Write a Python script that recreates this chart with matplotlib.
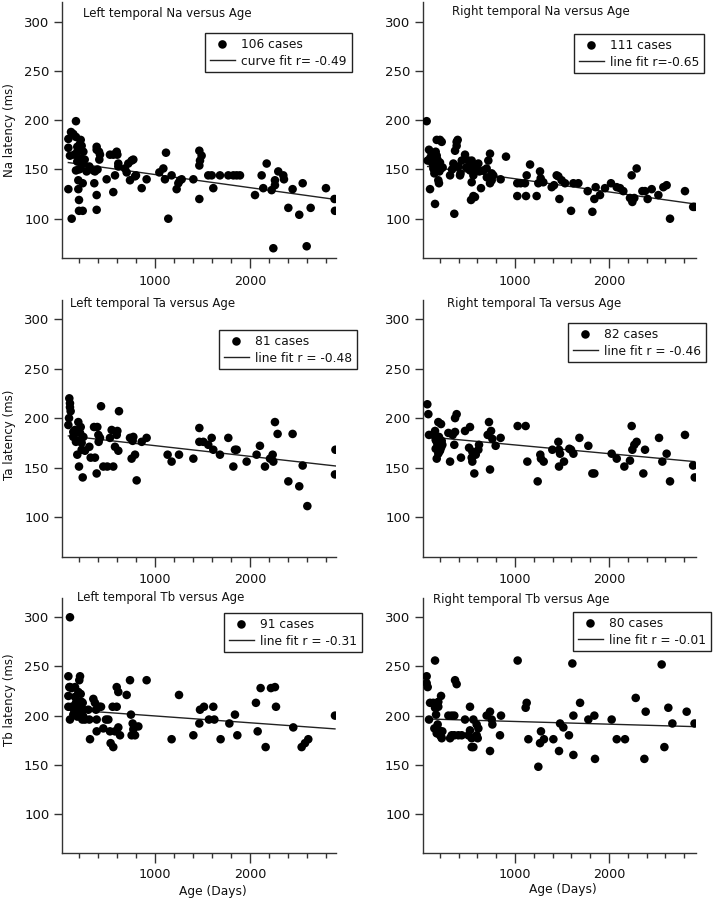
import matplotlib
matplotlib.use('Agg')
import matplotlib.pyplot as plt
from matplotlib.ticker import FixedLocator

# ---------------- data ----------------
titles = ["Left temporal Na versus Age", "Right temporal Na versus Age",
          "Left temporal Ta versus Age", "Right temporal Ta versus Age",
          "Left temporal Tb versus Age", "Right temporal Tb versus Age"]
ylabels = ["Na latency (ms)", "Ta latency (ms)", "Tb latency (ms)"]
xlabel = "Age (Days)"
case_labels = ["106 cases", "111 cases", "81 cases", "82 cases", "91 cases", "80 cases"]
fit_labels = ["curve fit r= -0.49", "line fit r=-0.65", "line fit r = -0.48",
              "line fit r = -0.46", "line fit r = -0.31", "line fit r = -0.01"]
y_ticks = [100, 150, 200, 250, 300]
x_major = [1000, 2000]
x_minor = [200, 400, 600, 800, 1200, 1400, 1600, 1800, 2200, 2400, 2600, 2800]

na_left_x = [88, 88, 88, 105, 116, 123, 140, 168, 168, 182, 182, 168, 182, 193, 193, 200, 200, 218, 218, 218,
             228, 239, 239, 246, 246, 309, 351, 361, 368, 386, 386, 386, 386, 411, 414, 421, 491, 526, 561, 561,
             579, 597, 604, 614, 614, 684, 702, 719, 737, 754, 772, 790, 800, 860, 912, 1046, 1088, 1105, 1116, 1140,
             1175, 1228, 1246, 1263, 1281, 1404, 1467, 1467, 1474, 1491, 1467, 1561, 1597, 1614, 1684, 1772, 1825, 1860, 1895, 2053,
             2123, 2140, 2176, 2228, 2263, 2263, 2298, 2351, 2358, 2246, 2449, 2404, 2519, 2555, 2597, 2639, 2800, 2890, 2895,
             200, 210, 225, 150, 260, 280, 395]
na_left_y = [181, 172, 130, 164, 188, 100, 186, 199, 183, 173, 168, 149, 158, 139, 130, 119, 108, 180, 161, 151,
             174, 108, 136, 168, 156, 153, 149, 136, 148, 173, 170, 124, 109, 168, 160, 165, 140, 165, 165, 127,
             144, 168, 165, 156, 153, 151, 147, 156, 139, 159, 160, 143, 144, 131, 140, 147, 151, 140, 167, 100,
             144, 130, 136, 139, 140, 140, 169, 154, 159, 164, 120, 144, 144, 131, 144, 144, 144, 144, 144, 124,
             144, 131, 156, 129, 134, 139, 148, 144, 140, 70, 130, 111, 104, 136, 72, 111, 131, 120, 108,
             150, 176, 160, 165, 160, 148, 150]

na_right_x = [60, 71, 85, 96, 113, 121, 131, 142, 149, 156, 167, 167, 177, 184, 191, 202, 202, 213, 220, 309,
              344, 354, 362, 379, 379, 390, 397, 415, 433, 468, 504, 521, 539, 539, 546, 557, 532, 557, 574, 592,
              610, 638, 663, 698, 716, 734, 734, 752, 752, 769, 847, 904, 1024, 1024, 1060, 1106, 1117, 1124, 1160, 1230,
              1248, 1266, 1273, 1301, 1390, 1415, 1443, 1461, 1472, 1496, 1532, 1596, 1621, 1674, 1773, 1823, 1844, 1858, 1904, 1957,
              2021, 2082, 2117, 2152, 2223, 2241, 2248, 2269, 2294, 2355, 2383, 2411, 2454, 2525, 2578, 2613, 2649, 2808, 2895, 2910,
              100, 140, 175, 195, 230, 330, 420, 480, 560, 620, 700]
na_right_y = [199, 159, 170, 130, 166, 156, 151, 146, 115, 168, 164, 180, 153, 139, 136, 180, 157, 151, 178, 144,
              156, 105, 169, 178, 174, 180, 153, 144, 159, 165, 159, 149, 137, 159, 154, 144, 119, 123, 122, 153,
              156, 131, 149, 151, 159, 166, 136, 139, 146, 144, 140, 163, 136, 123, 136, 136, 123, 144, 155, 123,
              136, 148, 141, 137, 132, 134, 144, 143, 120, 139, 136, 108, 136, 136, 128, 107, 120, 132, 124, 131,
              136, 132, 131, 128, 121, 144, 117, 121, 151, 128, 128, 120, 130, 124, 132, 134, 100, 128, 112, 112,
              162, 150, 160, 148, 152, 150, 146, 152, 150, 148, 142]

ta_left_x = [88, 95, 98, 105, 105, 112, 140, 158, 168, 175, 182, 193, 200, 211, 218, 228, 228, 239, 246, 263,
             309, 323, 358, 368, 386, 393, 404, 407, 421, 432, 456, 498, 526, 544, 561, 579, 597, 604, 614, 621,
             737, 754, 765, 772, 790, 807, 860, 912, 1133, 1175, 1253, 1404, 1467, 1467, 1509, 1561, 1597, 1614, 1684, 1772,
             1825, 1842, 1860, 1965, 2070, 2105, 2158, 2211, 2239, 2246, 2263, 2291, 2404, 2449, 2519, 2555, 2604, 2895, 2900,
             140, 182]
ta_left_y = [193, 200, 220, 215, 211, 207, 181, 188, 176, 186, 163, 196, 151, 185, 191, 175, 168, 140, 181, 167,
             171, 160, 191, 160, 144, 191, 183, 176, 180, 212, 151, 151, 180, 188, 151, 171, 183, 187, 167, 207,
             180, 159, 177, 181, 163, 137, 176, 180, 163, 156, 163, 159, 190, 176, 176, 173, 180, 168, 163, 180,
             151, 168, 168, 156, 163, 172, 151, 159, 163, 156, 196, 184, 136, 184, 131, 152, 111, 143, 168,
             186, 177]

ta_right_x = [67, 78, 85, 131, 149, 156, 156, 167, 177, 184, 191, 202, 213, 220, 291, 309, 337, 354, 362, 379,
              425, 468, 511, 521, 539, 546, 567, 582, 610, 617, 709, 723, 734, 745, 759, 794, 847, 1028, 1113, 1131,
              1241, 1269, 1276, 1305, 1397, 1461, 1468, 1468, 1479, 1521, 1578, 1596, 1621, 1685, 1780, 1823, 1844, 2028, 2082, 2163,
              2223, 2241, 2248, 2269, 2294, 2365, 2383, 2532, 2567, 2613, 2649, 2808, 2895, 2912,
              167, 184, 191, 213, 227, 362, 546]
ta_right_y = [214, 204, 183, 183, 187, 178, 169, 159, 173, 196, 166, 167, 194, 177, 185, 156, 183, 173, 200, 204,
              160, 187, 170, 191, 160, 156, 144, 163, 168, 173, 183, 196, 148, 187, 179, 172, 180, 192, 192, 156,
              136, 163, 159, 156, 168, 176, 168, 151, 164, 156, 169, 168, 164, 180, 172, 144, 144, 164, 159, 151,
              157, 192, 168, 173, 176, 144, 168, 180, 156, 164, 136, 183, 152, 140,
              176, 164, 181, 170, 173, 186, 166]

tb_left_x = [105, 88, 105, 98, 88, 88, 105, 123, 133, 140, 158, 158, 168, 175, 182, 193, 193, 203, 211, 218,
             218, 228, 235, 239, 246, 263, 298, 309, 316, 351, 368, 379, 386, 386, 414, 432, 456, 484, 509, 526,
             533, 554, 561, 579, 597, 597, 614, 614, 632, 702, 737, 747, 754, 765, 772, 790, 825, 912, 1175, 1253,
             1404, 1467, 1474, 1516, 1568, 1614, 1625, 1691, 1783, 1842, 1867, 2063, 2081, 2112, 2165, 2221, 2263, 2274, 2456, 2544,
             2579, 2614, 2895, 123, 147, 182, 228, 246]
tb_left_y = [300, 240, 229, 229, 220, 209, 196, 228, 209, 201, 229, 219, 213, 206, 199, 224, 214, 236, 240, 222,
             209, 201, 196, 213, 206, 196, 206, 196, 176, 217, 213, 206, 196, 184, 209, 209, 187, 196, 196, 184,
             172, 209, 168, 184, 209, 229, 224, 188, 180, 221, 236, 201, 180, 192, 186, 180, 189, 236, 176, 221,
             180, 192, 206, 209, 196, 209, 196, 176, 192, 201, 180, 213, 184, 228, 168, 228, 229, 209, 188, 168,
             172, 176, 200, 209, 206, 206, 214, 199]

tb_right_x = [60, 60, 71, 85, 96, 131, 149, 149, 160, 167, 177, 184, 184, 202, 213, 220, 227, 291, 309, 326,
              354, 354, 362, 379, 397, 433, 468, 504, 521, 539, 539, 557, 592, 603, 610, 592, 698, 734, 734, 752,
              759, 840, 851, 1028, 1113, 1124, 1142, 1248, 1276, 1266, 1308, 1408, 1468, 1479, 1514, 1574, 1610, 1621, 1621, 1692,
              1780, 1844, 1851, 2028, 2082, 2170, 2284, 2376, 2390, 2560, 2589, 2631, 2674, 2826, 2910,
              167, 191, 213, 184, 142, 326, 557, 521]
tb_right_y = [240, 233, 229, 196, 213, 213, 256, 208, 201, 185, 191, 183, 209, 180, 220, 177, 184, 200, 177, 200,
              200, 180, 236, 232, 180, 180, 196, 180, 209, 177, 168, 168, 191, 177, 187, 180, 200, 204, 164, 196,
              191, 180, 200, 256, 208, 213, 176, 148, 184, 172, 176, 176, 164, 192, 188, 180, 253, 200, 160, 213,
              196, 200, 156, 196, 176, 176, 218, 156, 204, 252, 168, 208, 192, 204, 192,
              182, 185, 179, 214, 187, 180, 196, 185]

# fit lines: (start x, end x) and (start y, end y)
fit_x = [[88, 2895], [71, 2910], [88, 2900], [78, 2912], [88, 2895], [71, 2910]]
fit_y = [[157, 119.6], [153, 115], [182, 151.6], [181, 156], [206, 186.5], [196.6, 188.8]]

xs_all = [na_left_x, na_right_x, ta_left_x, ta_right_x, tb_left_x, tb_right_x]
ys_all = [na_left_y, na_right_y, ta_left_y, ta_right_y, tb_left_y, tb_right_y]

# ---------------- layout (pixels) ----------------
W, H = 714, 900
fig = plt.figure(figsize=(W / 100, H / 100), dpi=100)
fig.patch.set_facecolor('white')

cols = [(61.9, 336.4), (422.9, 695.5)]
rows = [(2.0, 258.1), (299.5, 556.5), (597.6, 853.3)]
xlim = [(20, 2910), (20, 2920)]
ylim = (60, 320)

title_pos = [(83, 13), (452, 12), (70, 303), (447, 304), (77, 598), (433, 600)]
legend_pos = [(205, 33), (574, 34), (219, 330), (568, 323), (224, 613), (573, 612)]
ylabel_pos = [(10, 130), (10, 435), (10, 700)]
xlabel_pos = [(213, 892), (563, 889)]

axis_col = '#333333'

for i in range(6):
    r, c = divmod(i, 2)
    x0, x1 = cols[c]
    top, bot = rows[r]
    ax = fig.add_axes([x0 / W, 1 - bot / H, (x1 - x0) / W, (bot - top) / H])
    ax.set_xlim(*xlim[c])
    ax.set_ylim(*ylim)
    sc = ax.scatter(xs_all[i], ys_all[i], s=38, color='black', edgecolors='none', zorder=3)
    ln, = ax.plot(fit_x[i], fit_y[i], color='#222222', lw=1.0, zorder=2)
    for s in ('top', 'right'):
        ax.spines[s].set_visible(False)
    for s in ('left', 'bottom'):
        ax.spines[s].set_color(axis_col)
        ax.spines[s].set_linewidth(1.0)
    ax.yaxis.set_major_locator(FixedLocator(y_ticks))
    ax.xaxis.set_major_locator(FixedLocator(x_major))
    ax.xaxis.set_minor_locator(FixedLocator(x_minor))
    ax.tick_params(axis='y', direction='out', length=6, width=1, pad=3, labelsize=9.5,
                   colors=axis_col, labelcolor='#111111')
    xpad = 3.5 if r == 2 else 5
    ax.tick_params(axis='x', which='major', direction='out', length=7, width=1, pad=xpad, labelsize=9.2,
                   colors=axis_col, labelcolor='#111111')
    ax.tick_params(axis='x', which='minor', direction='out', length=3.6, width=1, colors=axis_col)
    ax.patch.set_alpha(0)

    tx, ty = title_pos[i]
    fig.text(tx / W, 1 - ty / H, titles[i], ha='left', va='center', fontsize=8.5, color='#111111')

    lx, ly = legend_pos[i]
    leg = ax.legend([sc, ln], [case_labels[i], fit_labels[i]], loc='upper left',
                    bbox_to_anchor=(lx / W, 1 - ly / H), bbox_transform=fig.transFigure,
                    frameon=True, fancybox=False, edgecolor='#222222', framealpha=1,
                    fontsize=8.8, borderpad=0.38, labelspacing=0.32, handlelength=2.1,
                    handletextpad=0.5, borderaxespad=0, scatterpoints=1, markerscale=1.0)
    leg.get_frame().set_linewidth(1.0)
    for t in leg.get_texts():
        t.set_color('#111111')

for r in range(3):
    px, py = ylabel_pos[r]
    fig.text(px / W, 1 - py / H, ylabels[r], rotation=90, ha='center', va='center', fontsize=8.5, color='#111111')

for c in range(2):
    px, py = xlabel_pos[c]
    fig.text(px / W, 1 - py / H, xlabel, ha='center', va='center', fontsize=8.8, color='#111111')

fig.savefig('out.png', dpi=100, facecolor='white')
